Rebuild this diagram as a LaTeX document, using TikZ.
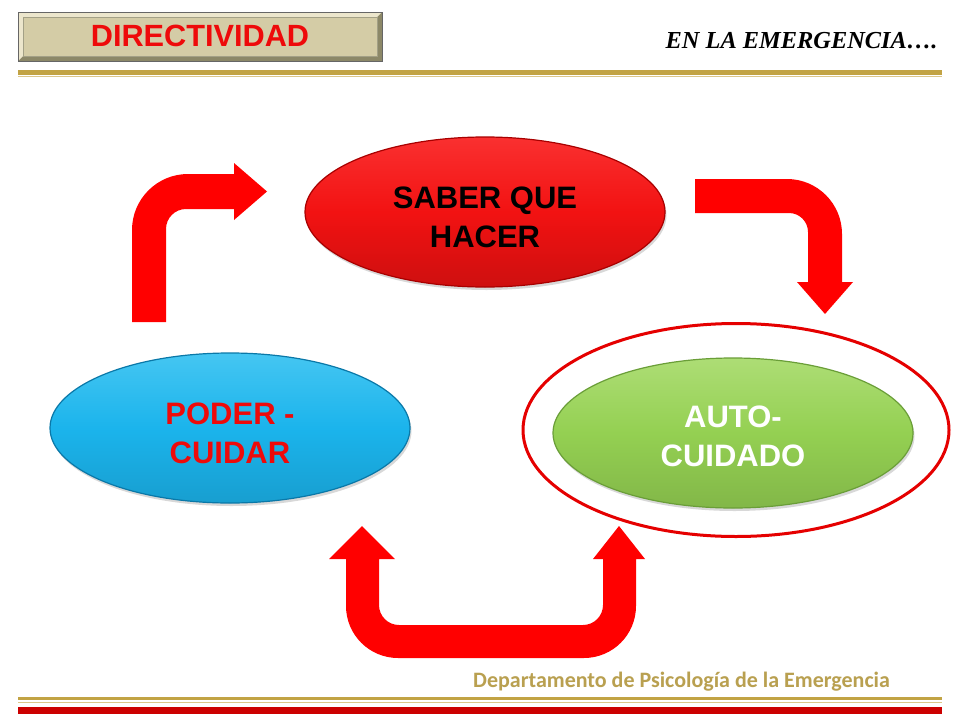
\documentclass[tikz,border=0pt]{standalone}
\usepackage{fontspec}
\setmainfont{Liberation Sans}
\newfontfamily\serifbi{Liberation Serif}
\newfontfamily\footfont{Carlito}
\usetikzlibrary{shapes.geometric,shadows}
\definecolor{gold}{HTML}{C2A344}
\definecolor{goldlight}{HTML}{DCC78A}
\definecolor{footred}{HTML}{CC0000}
\definecolor{arrowred}{HTML}{FF0000}
\definecolor{beige}{HTML}{D4CCA6}
\definecolor{bevdark}{HTML}{8C8868}
\definecolor{bevlight}{HTML}{ECE6CC}
\definecolor{titlered}{HTML}{EE0A0A}
\definecolor{footgold}{HTML}{B9A050}
\definecolor{ovred}{HTML}{F21212}
\definecolor{ovredtop}{HTML}{FA3030}
\definecolor{ovredrim}{HTML}{A80000}
\definecolor{ovblue}{HTML}{1BB4EC}
\definecolor{ovbluetop}{HTML}{45C6F2}
\definecolor{ovbluerim}{HTML}{0A78A8}
\definecolor{ovgreen}{HTML}{94D052}
\definecolor{ovgreentop}{HTML}{ADDD75}
\definecolor{ovgreenrim}{HTML}{6A9E38}
\newcommand{\topstrut}{\rule{0pt}{32pt}}
\tikzset{
  oval/.style={ellipse, minimum width=360pt, minimum height=150pt, inner sep=0pt,
    align=center, font=\fontsize{31}{39.5}\selectfont\bfseries, line width=1.2pt,
    drop shadow={opacity=0.3, shadow xshift=1.5pt, shadow yshift=-3pt}},
  blockarrow/.style={fill=arrowred},
}
\begin{document}
\begin{tikzpicture}[x=1pt,y=-1pt]
\useasboundingbox (0,0) rectangle (960,720);
\fill[white] (0,0) rectangle (960,720);

% header box
\fill[bevdark] (18,12) rectangle (382,61);
\fill[bevlight] (18,12) -- (382,12) -- (377,17) -- (23,17) -- (23,56) -- (18,61) -- cycle;
\fill[beige] (23,17) rectangle (377,56);
\draw[black!60, line width=0.8pt] (18,12) rectangle (382,61);
\draw[bevdark!80, line width=0.6pt] (23,17) rectangle (377,56);
\node[font=\fontsize{30.7}{36}\selectfont\bfseries, text=titlered] (title) at (200,36) {DIRECTIVIDAD};

\node[anchor=base east, font=\fontsize{24.4}{28}\selectfont\serifbi\bfseries\itshape] (sub) at (941,48) {EN LA EMERGENCIA….};

% top rules
\fill[gold] (18,70) rectangle (942,74.5);
\fill[goldlight] (18,75.5) rectangle (942,77);

% ellipses
\node[oval, top color=ovredtop, bottom color=ovred!85!black, middle color=ovred, draw=ovredrim] (saber) at (485,212) {\topstrut SABER QUE\\HACER};
\node[oval, top color=ovbluetop, bottom color=ovblue!88!black, middle color=ovblue, draw=ovbluerim, text=titlered] (poder) at (230,428) {\topstrut PODER -\\CUIDAR};
\node[oval, top color=ovgreentop, bottom color=ovgreen!88!black, middle color=ovgreen, draw=ovgreenrim, text=white] (auto) at (733,433) {\rule{0pt}{28pt}AUTO-\\CUIDADO};
\node[ellipse, draw=red!90!black, line width=3pt, minimum width=426pt, minimum height=213pt, inner sep=0pt] (ring) at (736,430) {};

% block arrows
\fill[blockarrow] (132,322) [rounded corners=56pt] -- (132,174) [sharp corners] -- (234,174) -- (234,163) -- (267,191.5) -- (234,220) -- (234,209) [rounded corners=20pt] -- (166,209) [sharp corners] -- (166,322) -- cycle;
\fill[blockarrow] (695,179) [rounded corners=55pt] -- (842,179) [sharp corners] -- (842,282) -- (853,282) -- (825,314) -- (797,282) -- (808,282) [rounded corners=19pt] -- (808,213) [sharp corners] -- (695,213) -- cycle;
\fill[blockarrow] (346,559) [rounded corners=52pt] -- (346,658) -- (636,658) [sharp corners] -- (636,559) -- (645,559) -- (619,526) -- (593,559) -- (603,559) [rounded corners=20pt] -- (603,625) -- (379,625) [sharp corners] -- (379,559) -- (395,559) -- (362,526) -- (329,559) -- cycle;

% footer
\node[anchor=base west, font=\fontsize{22}{26}\selectfont\footfont\bfseries, text=footgold, inner sep=0pt] (dept) at (473,687.5) {Departamento de Psicología de la Emergencia};
\fill[gold] (18,696.5) rectangle (942,700);
\fill[goldlight] (18,701.5) rectangle (942,703);
\fill[footred] (18,707) rectangle (942,714);
\end{tikzpicture}
\end{document}
